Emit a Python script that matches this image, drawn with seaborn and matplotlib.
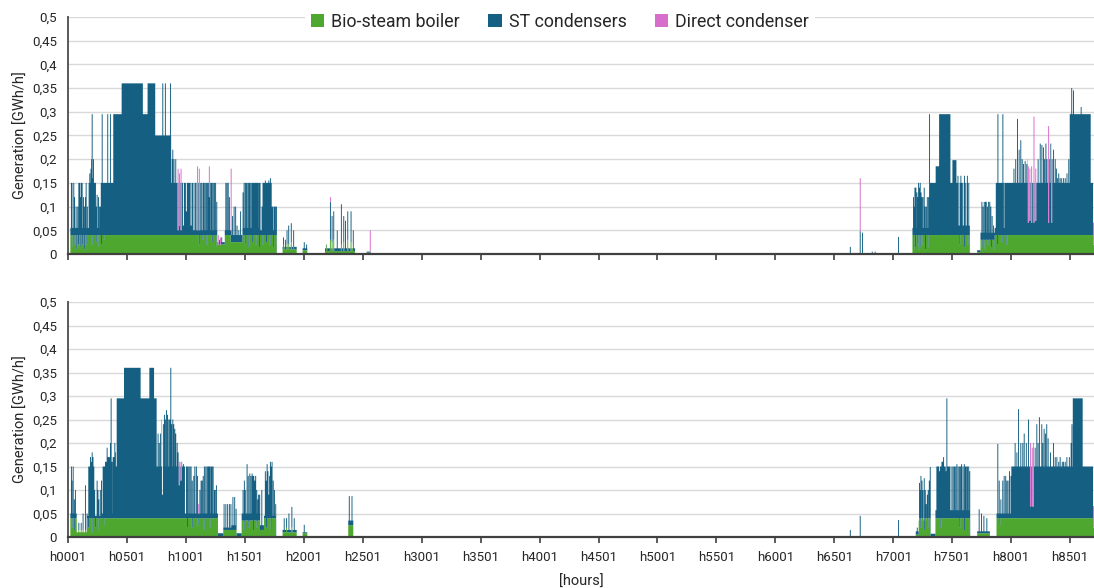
import numpy as np
import pandas as pd
import matplotlib
matplotlib.use("Agg")
import matplotlib.pyplot as plt
import seaborn as sns
from matplotlib.patches import Patch
from matplotlib.ticker import FuncFormatter, MultipleLocator

HOURS = 8760
PEAK_WIDTH = 8

series_names = ["Bio-steam boiler", "ST condensers", "Direct condenser"]
series_colors = ["#4EA72E", "#156082", "#D86ECC"]
x_ticks = list(range(0, 8501, 500))
x_tick_labels = [f"h{t + 1:04d}" for t in x_ticks]

# ---------------- upper panel ----------------
# (from hour, stacked top of boiler + ST condensers) [GWh/h]
top_levels = [
    (0, 0.0), (20, 0.055), (384, 0.295), (455, 0.36), (635, 0.295), (675, 0.36),
    (740, 0.25), (875, 0.15), (1060, 0.05), (1265, 0.025), (1330, 0.05),
    (1380, 0.04), (1480, 0.055), (1630, 0.05), (1770, 0.0), (1820, 0.015),
    (1940, 0.0), (1990, 0.012), (2030, 0.0), (2180, 0.012), (2435, 0.0),
    (2533, 0.005), (2567, 0.0), (7163, 0.055), (7304, 0.15), (7360, 0.185),
    (7389, 0.295), (7485, 0.15), (7502, 0.198), (7536, 0.15), (7650, 0.0),
    (7712, 0.008), (7740, 0.045), (7861, 0.055), (8002, 0.15), (8497, 0.295),
    (8675, 0.15),
]
# short hourly peaks of the stacked top (hour, level)
top_peaks = [
    (25, .15), (30, .15), (45, .15), (52, .12), (65, .10), (79, .10), (88, .15),
    (95, .15), (100, .12), (108, .15), (116, .15), (127, .12), (135, .10),
    (144, .12), (150, .15), (160, .10),
    (175, .15), (181, .17), (186, .15), (191, .18), (196, .20), (201, .295),
    (206, .16), (212, .20), (218, .15), (223, .15), (229, .15), (235, .10),
    (243, .125), (255, .12), (262, .10), (271, .10), (278, .15), (286, .295),
    (292, .15), (297, .15), (305, .15), (310, .15), (314, .15), (320, .15),
    (326, .15), (333, .295), (340, .15), (348, .15), (353, .15), (356, .295),
    (362, .15), (369, .15), (374, .15), (377, .15),
    (800, .36), (822, .36), (865, .36),
    (880, .20), (885, .22), (895, .20), (910, .20),
    (1065, .15), (1078, .15), (1090, .15), (1104, .15), (1118, .15), (1130, .15),
    (1142, .15), (1150, .15), (1160, .15), (1170, .15), (1180, .15), (1188, .15),
    (1200, .15), (1210, .15), (1218, .15), (1228, .15), (1238, .15), (1248, .15),
    (1258, .11), (1280, .03), (1300, .035),
    (1335, .15), (1345, .15), (1355, .15), (1365, .12),
    (1392, .08), (1405, .10), (1418, .10), (1430, .06), (1445, .05), (1460, .09),
    (1481, .13), (1490, .15), (1501, .15), (1510, .15), (1521, .15), (1530, .15),
    (1538, .15), (1548, .15), (1558, .15), (1565, .15), (1572, .15), (1580, .15),
    (1586, .15), (1593, .15), (1600, .15), (1608, .15), (1617, .15), (1625, .15),
    (1642, .10), (1650, .15), (1656, .15), (1663, .15), (1670, .155), (1678, .15),
    (1685, .15), (1692, .15), (1699, .155), (1706, .15), (1713, .16), (1720, .15),
    (1727, .10), (1735, .10), (1747, .10), (1755, .10), (1764, .10),
    (1824, .035), (1840, .03), (1854, .05), (1868, .06), (1890, .065), (1910, .05),
    (2000, .025), (2020, .02),
    (2188, .02), (2222, .11), (2236, .08), (2250, .09), (2280, .05), (2315, .105),
    (2335, .08), (2350, .07), (2369, .09), (2397, .09), (2416, .05),
    (6632, .015), (6735, .045), (6818, .005), (6843, .005), (7041, .036),
    (7168, .12), (7174, .10), (7180, .14), (7188, .14), (7197, .13), (7204, .12),
    (7211, .15), (7218, .14), (7225, .15), (7232, .13), (7239, .12), (7248, .12),
    (7259, .14), (7266, .10), (7276, .10), (7285, .12), (7296, .12), (7304, .295),
    (7545, .165), (7570, .165), (7600, .165), (7625, .165),
    (7748, .11), (7758, .10), (7768, .11), (7778, .11), (7785, .11), (7795, .10),
    (7805, .11), (7815, .11), (7824, .10), (7835, .08), (7847, .06),
    (7870, .15), (7878, .15), (7884, .295), (7890, .15), (7898, .15), (7905, .15),
    (7912, .15), (7918, .15), (7926, .295), (7935, .15), (7946, .15), (7953, .15),
    (7960, .15), (7967, .15), (7974, .15), (7981, .15), (7988, .15), (7995, .15),
    (8020, .18), (8035, .20), (8050, .285), (8064, .22), (8078, .24), (8090, .20),
    (8101, .19), (8115, .196), (8129, .19), (8140, .20), (8225, .20), (8243, .233),
    (8257, .23), (8271, .225), (8280, .20), (8291, .233), (8300, .20), (8314, .269),
    (8320, .20), (8333, .233), (8345, .20), (8356, .22), (8370, .20), (8380, .18),
    (8390, .16), (8400, .17), (8412, .16), (8425, .16), (8441, .16), (8455, .16),
    (8470, .17), (8485, .20),
    (8510, .35), (8525, .345), (8590, .31),
]
# short hourly drops of the stacked top (hour, level)
top_dips = [
    (975, .06), (1000, .09), (1040, .06),
    (7555, .06), (7590, .06), (7615, .06), (7640, .06),
]
# bio-steam boiler output (from hour, level), its peaks and drops (hour, level)
top_boiler_levels = [
    (0, 0.0), (20, .04), (1265, .02), (1330, .04), (1380, .025), (1480, .04),
    (1770, 0.0), (1820, .01), (1940, 0.0), (1990, .008), (2030, 0.0),
    (2180, .006), (2435, 0.0), (2533, .003), (2567, 0.0), (7163, .04),
    (7650, 0.0), (7712, .004), (7740, .03), (7861, .04), (8695, .02),
]
top_boiler_peaks = [
    (1830, .02), (1854, .02), (1868, .02), (1890, .025), (1910, .015),
    (2190, .02), (2222, .03), (2236, .025), (2250, .03), (2315, .02),
    (2335, .025), (2369, .03), (2397, .025), (2410, .02),
]
top_boiler_dips = [
    (40, .015), (55, .02), (70, .01), (85, .02), (100, .015), (120, .02),
    (135, .01), (150, .02), (200, .02), (240, .025), (260, .015), (280, .02),
    (300, .03), (1110, .02), (1140, .03), (1175, .02), (1220, .025), (1250, .015),
    (1500, .02), (1530, .015), (1560, .025), (1590, .02), (1620, .015),
    (1650, .02), (1680, .025), (1710, .02), (1740, .015),
    (7170, .01), (7185, .015), (7200, .02), (7215, .01), (7230, .015),
    (7250, .02), (7270, .01), (7290, .015), (7560, .02), (7600, .015),
    (7630, .02), (7750, .015), (7775, .01), (7800, .02), (7830, .015),
    (7850, .01), (7880, .02), (7920, .025), (7960, .02),
]
# direct condenser hours: (hour, ST top, direct condenser top)
top_direct = [
    (930, .05, .18), (942, .06, .17), (955, .05, .18),
    (1095, .05, .185), (1110, .05, .18), (1195, .12, .185),
    (1270, .02, .04), (1290, .02, .035), (1380, .05, .18),
    (2222, .11, .12), (2560, .005, .05), (6716, .048, .16),
    (8142, .066, .185), (8155, .07, .18), (8170, .066, .185), (8190, .066, .29),
    (8205, .07, .18), (8314, .066, .27), (8340, .066, .20),
    (8695, .02, .066),
]

# ---------------- lower panel ----------------
bottom_levels = [
    (0, 0.0), (20, 0.05), (74, 0.01), (165, 0.045), (286, 0.05), (413, 0.295),
    (475, 0.36), (616, 0.295), (690, 0.36), (730, 0.295), (752, 0.15),
    (992, 0.05), (1272, 0.008), (1317, 0.02), (1388, 0.025), (1430, 0.008),
    (1473, 0.05), (1628, 0.025), (1662, 0.045), (1764, 0.0), (1820, 0.015),
    (1940, 0.0), (1990, 0.01), (2030, 0.0), (2377, 0.035), (2420, 0.0),
    (7191, 0.012), (7216, 0.035), (7316, 0.007), (7358, 0.057), (7451, 0.15),
    (7485, 0.057), (7650, 0.0), (7712, 0.012), (7820, 0.0), (7876, 0.05),
    (8002, 0.15), (8523, 0.295), (8607, 0.15),
]
bottom_peaks = [
    (25, .15), (30, .12), (40, .15), (50, .08), (59, .10), (88, .03), (108, .03),
    (124, .05), (144, .11), (158, .05),
    (172, .15), (180, .15), (187, .17), (194, .16), (201, .18), (208, .17),
    (215, .15), (222, .10), (243, .12), (250, .10), (257, .08), (270, .10),
    (280, .12),
    (294, .15), (300, .15), (307, .15), (314, .16), (321, .16), (328, .19),
    (335, .17), (342, .17), (349, .17), (356, .20), (362, .295), (370, .16),
    (379, .17), (386, .17), (393, .20), (398, .18), (404, .15), (410, .15),
    (760, .22), (770, .20), (780, .22), (794, .25), (805, .24), (814, .26),
    (822, .25), (831, .27), (840, .26), (851, .25), (860, .25), (868, .36),
    (875, .24), (885, .25), (893, .24), (902, .23), (910, .22), (922, .20),
    (930, .18), (960, .16), (975, .155),
    (1001, .15), (1010, .15), (1020, .15), (1030, .15), (1040, .15), (1050, .12),
    (1063, .13), (1072, .15), (1085, .15), (1095, .13), (1115, .10), (1125, .12),
    (1134, .12), (1143, .13), (1153, .15), (1165, .15), (1176, .15), (1185, .15),
    (1193, .15), (1200, .15), (1210, .15), (1218, .15), (1227, .15), (1238, .10),
    (1245, .10), (1255, .11),
    (1320, .07), (1335, .07), (1350, .07), (1365, .07), (1378, .07),
    (1395, .085), (1410, .085), (1422, .06),
    (1481, .10), (1492, .12), (1500, .10), (1515, .155), (1525, .13), (1538, .135),
    (1548, .13), (1558, .135), (1565, .13), (1572, .13), (1580, .12), (1588, .13),
    (1597, .10), (1606, .08), (1613, .09), (1622, .09), (1640, .10),
    (1670, .14), (1677, .12), (1685, .155), (1692, .14), (1699, .09), (1706, .13),
    (1713, .16), (1720, .15), (1727, .16), (1737, .12), (1747, .10), (1758, .07),
    (1830, .04), (1850, .04), (1870, .05), (1895, .064), (1915, .04),
    (2000, .026), (2382, .087), (2405, .087),
    (6632, .015), (6716, .045), (7041, .036), (7200, .02),
    (7219, .115), (7225, .10), (7231, .13), (7240, .12), (7248, .10), (7259, .125),
    (7268, .10), (7276, .07), (7285, .09), (7293, .10), (7302, .12), (7310, .149),
    (7366, .15), (7373, .15), (7380, .15), (7388, .14), (7395, .15), (7402, .15),
    (7409, .16), (7416, .16), (7423, .17), (7430, .15), (7437, .15), (7444, .14),
    (7451, .295),
    (7494, .15), (7505, .15), (7516, .15), (7526, .15), (7536, .155), (7547, .15),
    (7559, .15), (7568, .15), (7576, .155), (7588, .15), (7599, .155), (7608, .15),
    (7616, .15), (7626, .15), (7636, .15), (7645, .14),
    (7725, .059), (7745, .05), (7765, .045), (7790, .04),
    (7883, .198), (7895, .12), (7909, .08), (7925, .12), (7937, .13), (7950, .13),
    (7960, .12), (7970, .12), (7982, .14), (7995, .13),
    (8030, .20), (8045, .18), (8059, .272), (8078, .20), (8095, .20), (8107, .22),
    (8125, .20), (8143, .25), (8200, .19), (8214, .24), (8225, .20), (8236, .255),
    (8256, .24), (8265, .20), (8276, .23), (8287, .22), (8298, .24), (8310, .21),
    (8330, .18), (8355, .20), (8370, .17), (8384, .17), (8400, .16), (8412, .17),
    (8430, .16), (8441, .16), (8455, .16), (8469, .17), (8490, .17), (8505, .20),
    (8512, .24),
]
bottom_dips = [(797, .09), (940, .10)]
bottom_boiler_levels = [
    (0, 0.0), (20, .04), (74, .015), (165, .04), (1272, 0.0), (1317, .015),
    (1430, 0.0), (1473, .035), (1628, .015), (1662, .04), (1764, 0.0),
    (1820, .01), (1940, 0.0), (1990, .008), (2030, 0.0), (2377, .025),
    (2420, 0.0), (7191, .005), (7216, .04), (7316, 0.0), (7358, .04),
    (7650, 0.0), (7712, .008), (7820, 0.0), (7876, .04), (8695, .02),
]
bottom_boiler_peaks = [(1850, .02), (1895, .02)]
bottom_boiler_dips = [
    (30, .02), (50, .015), (170, .02), (200, .01), (230, .02), (260, .015),
    (300, .025), (1010, .02), (1050, .02), (1100, .025), (1150, .015),
    (1200, .02), (1490, .015), (1530, .02), (1570, .015), (1600, .02),
    (1680, .02), (1720, .015), (7230, .02), (7260, .015), (7290, .02),
    (7400, .02), (7560, .02), (7600, .015), (7900, .025),
]
bottom_direct = [
    (940, .11, .16), (955, .12, .16), (1105, .05, .07),
    (8160, .065, .20), (8175, .065, .19), (8185, .065, .20),
    (8695, .02, .066),
]


def step_series(levels, peaks=(), dips=()):
    y = np.zeros(HOURS)
    ends = [h for h, _ in levels[1:]] + [HOURS]
    for (h0, v), h1 in zip(levels, ends):
        y[h0:h1] = v
    for h, v in peaks:
        y[h:h + PEAK_WIDTH] = np.maximum(y[h:h + PEAK_WIDTH], v)
    for h, v in dips:
        y[h:h + PEAK_WIDTH] = np.minimum(y[h:h + PEAK_WIDTH], v)
    return y


def panel_frame(levels, peaks, dips, boiler_levels, boiler_peaks, boiler_dips, direct):
    top = step_series(levels, peaks, dips)
    direct_part = np.zeros(HOURS)
    for h, lo, hi in direct:
        top[h:h + PEAK_WIDTH] = lo
        direct_part[h:h + PEAK_WIDTH] = hi - lo
    boiler = np.minimum(step_series(boiler_levels, boiler_peaks, boiler_dips), top)
    st = top - boiler
    hours = np.arange(HOURS)
    parts = []
    for name, vals in zip(series_names, [boiler, st, direct_part]):
        parts.append(pd.DataFrame({"hour": hours + 0.5, "source": name, "value": vals}))
    return pd.concat(parts, ignore_index=True)


frames = [
    panel_frame(top_levels, top_peaks, top_dips, top_boiler_levels,
                top_boiler_peaks, top_boiler_dips, top_direct),
    panel_frame(bottom_levels, bottom_peaks, bottom_dips, bottom_boiler_levels,
                bottom_boiler_peaks, bottom_boiler_dips, bottom_direct),
]

sns.set_theme(style="white")
plt.rcParams["font.family"] = ["Roboto", "DejaVu Sans"]
text_color = "#262626"

fig = plt.figure(figsize=(10.94, 5.88), dpi=100)
ax_top = fig.add_axes([68 / 1094, 1 - 254 / 588, 1 - 68 / 1094, 237 / 588])
ax_bot = fig.add_axes([68 / 1094, 1 - 537 / 588, 1 - 68 / 1094, 235 / 588])
palette = dict(zip(series_names, series_colors))

for ax, df, show_labels in [(ax_top, frames[0], False), (ax_bot, frames[1], True)]:
    sns.histplot(
        data=df, x="hour", weights="value", hue="source",
        hue_order=series_names[::-1], multiple="stack",
        binwidth=1, binrange=(0, HOURS), element="step", fill=True,
        alpha=1, linewidth=0, edgecolor="none", palette=palette,
        legend=False, ax=ax,
    )
    ax.set_xlim(0, 8703)
    ax.set_ylim(0, 0.5)
    ax.yaxis.set_major_locator(MultipleLocator(0.05))
    ax.yaxis.set_major_formatter(
        FuncFormatter(lambda v, _: f"{round(v, 2):g}".replace(".", ",")))
    ax.grid(axis="y", color="#d9d9d9", linewidth=1.0)
    ax.grid(axis="x", visible=False)
    ax.set_axisbelow(True)
    for side in ["top", "right"]:
        ax.spines[side].set_visible(False)
    ax.spines["left"].set_color("#595959")
    ax.spines["left"].set_linewidth(1.4)
    ax.spines["bottom"].set_color("#404040")
    ax.spines["bottom"].set_linewidth(1.6)
    ax.spines["bottom"].set_zorder(5)
    ax.set_xticks(x_ticks)
    ax.set_xticklabels(x_tick_labels if show_labels else [])
    ax.tick_params(axis="x", bottom=True, length=4, width=1.2, color="#404040",
                   direction="out", labelsize=9.5, labelcolor=text_color, pad=6)
    ax.tick_params(axis="y", left=False, length=0, labelsize=9.5,
                   labelcolor=text_color, pad=8)
    ax.set_ylabel("Generation [GWh/h]", fontsize=10.5, color=text_color, labelpad=3)
    ax.set_xlabel("")

ax_bot.set_xlabel("[hours]", fontsize=10.5, color=text_color, labelpad=8)

handles = [Patch(facecolor=c, edgecolor="none") for c in series_colors]
leg = ax_top.legend(
    handles, series_names, loc="center", ncol=3,
    bbox_to_anchor=(560 / 1094, 1 - 22 / 588), bbox_transform=fig.transFigure,
    frameon=True, fancybox=False, framealpha=1, facecolor="white",
    edgecolor="none", fontsize=12.8, handlelength=0.75, handleheight=0.75,
    handletextpad=0.4, columnspacing=1.6, borderpad=0.35, borderaxespad=0,
)
for t in leg.get_texts():
    t.set_color(text_color)
leg.set_zorder(10)

fig.savefig("out.png", dpi=100)
